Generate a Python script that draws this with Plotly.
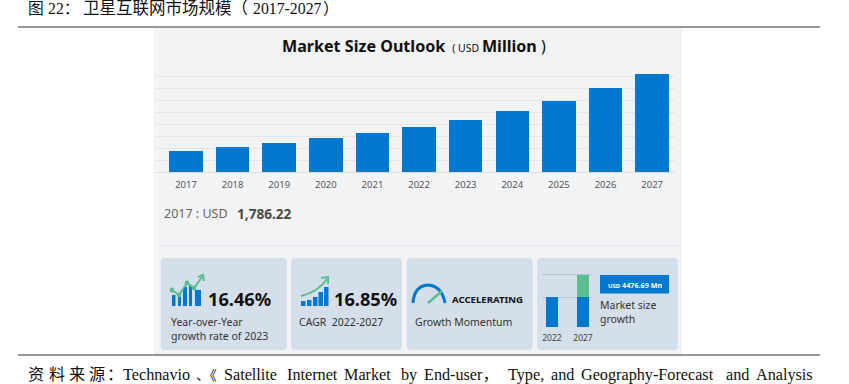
import plotly.graph_objects as go

W, H = 849, 384

# ---- data ----
years = ["2017", "2018", "2019", "2020", "2021", "2022", "2023", "2024", "2025", "2026", "2027"]
market_size = [1786.22, 2070, 2390, 2810, 3250, 3760, 4370, 5110, 5960, 7000, 8160]
mini_years = ["2022", "2027"]
mini_base = [6030, 6030]
mini_growth = [0, 4476.69]
kpi_yoy = "16.46%"
kpi_cagr = "16.85%"

BLUE = "#0078d0"
GREEN = "#5cbd90"
PANEL = "#f2f3f5"
CARD = "#d5dfea"
SANS = "Noto Sans, Open Sans, sans-serif"
SERIF = "Liberation Serif, Noto Sans CJK SC, serif"


def px(x):
    return x / W


def py(y):
    return 1 - y / H


shapes = []
annotations = []


def rect(x0, y0, x1, y1, color):
    shapes.append(dict(type="rect", xref="paper", yref="paper", x0=px(x0), x1=px(x1), y0=py(y0), y1=py(y1),
                       fillcolor=color, line_width=0, layer="below"))


def hline(x0, x1, y, color, width=1):
    shapes.append(dict(type="line", xref="paper", yref="paper", x0=px(x0), x1=px(x1), y0=py(y), y1=py(y),
                       line=dict(color=color, width=width), layer="below"))


def polyline(points, color, width, layer="above"):
    path = "M " + " L ".join(f"{px(a):.5f},{py(b):.5f}" for a, b in points)
    shapes.append(dict(type="path", xref="paper", yref="paper", path=path,
                       line=dict(color=color, width=width), layer=layer))


def curve(p0, c, p1, color, width):
    path = (f"M {px(p0[0]):.5f},{py(p0[1]):.5f} Q {px(c[0]):.5f},{py(c[1]):.5f} "
            f"{px(p1[0]):.5f},{py(p1[1]):.5f}")
    shapes.append(dict(type="path", xref="paper", yref="paper", path=path,
                       line=dict(color=color, width=width)))


def dot(x, y, r, color):
    shapes.append(dict(type="circle", xref="paper", yref="paper", x0=px(x - r), x1=px(x + r),
                       y0=py(y + r), y1=py(y - r), fillcolor=color, line_width=0))


def icon_bar(x0, x1, y0, y1):
    shapes.append(dict(type="rect", xref="paper", yref="paper", x0=px(x0), x1=px(x1), y0=py(y1), y1=py(y0),
                       fillcolor=BLUE, line_width=0))


def card(x0, y0, x1, y1, r=4):
    p = (f"M {px(x0 + r)},{py(y0)} L {px(x1 - r)},{py(y0)} Q {px(x1)},{py(y0)} {px(x1)},{py(y0 + r)} "
         f"L {px(x1)},{py(y1 - r)} Q {px(x1)},{py(y1)} {px(x1 - r)},{py(y1)} "
         f"L {px(x0 + r)},{py(y1)} Q {px(x0)},{py(y1)} {px(x0)},{py(y1 - r)} "
         f"L {px(x0)},{py(y0 + r)} Q {px(x0)},{py(y0)} {px(x0 + r)},{py(y0)} Z")
    shapes.append(dict(type="path", xref="paper", yref="paper", path=p, fillcolor=CARD, line_width=0, layer="below"))


def text(x, y, s, size, color="#333333", family=SANS, anchor="left", bold=False):
    annotations.append(dict(xref="paper", yref="paper", x=px(x), y=py(y), text=f"<b>{s}</b>" if bold else s,
                            showarrow=False, xanchor=anchor, yanchor="middle", borderpad=0,
                            font=dict(size=size, color=color, family=family)))


# page furniture
rect(154, 27, 682, 355, PANEL)
hline(18, 820, 27, "#333333", 1.2)
hline(18, 820, 355, "#333333", 1.2)
hline(160, 680, 246, "#dfe1e5", 1)

heading_parts = [("图", 27, 15.8), ("22：", 47, 15.8), ("卫星互联网市场规模（", 82, 16.5),
                 ("2017-2027", 252, 15.8), ("）", 322, 15.8)]
for part, x, size in heading_parts:
    text(x, 8, part, size, "#111111", SERIF)

footer_parts = [("资", 27, 16.2), ("料", 47.5, 16.2), ("来", 68, 16.2), ("源", 88, 16.2), ("：", 106, 16.2),
                ("Technavio", 122, 16.2), ("、《", 195, 13.8), ("Satellite", 223.5, 16.2), ("Internet", 286, 16.2),
                ("Market", 343, 16.2), ("by", 400, 16.2), ("End-user，", 423, 16.2), ("Type,", 507, 16.2),
                ("and", 550, 16.2), ("Geography-Forecast", 580, 16.2), ("and", 725, 16.2), ("Analysis", 755, 16.2)]
for part, x, size in footer_parts:
    text(x, 375, part, size, "#111111", SERIF)

# title
text(414, 46, "<b>Market Size Outlook</b> <span style='font-size:10.5px'> ( USD </span><b>Million</b> )", 16.1,
     "#111111", SANS, "center")
text(163, 213, "2017 : USD", 12.5, "#666666")
text(236, 213, "1,786.22", 13.6, "#4a4a4a", bold=True)

# cards
card(160.7, 258, 287, 350)
card(291, 258, 402, 350)
card(406.7, 258, 532.7, 350)
card(537, 258, 678, 350)

# card 1
for a, b, t in [(172, 175.5, 295), (178, 181, 297), (183, 187, 287), (189, 192, 286), (195, 201, 290)]:
    icon_bar(a, b, t, 306)
polyline([(172, 290), (179, 295), (187, 283), (194, 288), (202, 277)], GREEN, 2)
for a, b in [(172, 290), (179, 295), (187, 283), (194, 288)]:
    dot(a, b, 2.4, GREEN)
polyline([(198, 277), (203, 275), (204, 281)], GREEN, 2)
text(207, 299, kpi_yoy, 18.2, "#111111", bold=True)
text(170, 322, "Year-over-Year", 10.5)
text(170, 336, "growth rate of 2023", 10.5)

# card 2
for a, t in [(301, 301), (307, 300), (313, 297), (318.5, 292), (324, 287)]:
    icon_bar(a, a + 4.5, t, 306)
curve((301, 296), (318, 292), (327, 279), GREEN, 2)
polyline([(321, 278), (328, 277), (328, 284)], GREEN, 2)
text(332.5, 299, kpi_cagr, 18.2, "#111111", bold=True)
text(298, 322, "CAGR  2022-2027", 10.5)

# card 3
curve((413, 303), (414, 286), (428, 285), BLUE, 3)
curve((428, 285), (442, 286), (445, 303), BLUE, 3)
polyline([(428, 303), (442, 291)], GREEN, 2.5)
text(451, 299.5, "ACCELERATING", 9.6, "#111111", bold=True)
text(414, 322, "Growth Momentum", 10.5)

# card 4
rect(600, 275, 669, 293.5, BLUE)
text(634.5, 285, "<span style='font-size:6px'>USD</span> 4476.69 Mn", 7.2, "#ffffff", anchor="center", bold=True)
text(599, 305, "Market size", 10.5)
text(599, 319, "growth", 10.5)

fig = go.Figure()
fig.add_bar(x=years, y=market_size, marker=dict(color=BLUE, line_width=0), width=0.72,
            xaxis="x", yaxis="y", hoverinfo="skip")
fig.add_bar(x=mini_years, y=mini_base, marker=dict(color=BLUE, line_width=0), width=0.39,
            xaxis="x2", yaxis="y2", hoverinfo="skip")
fig.add_bar(x=mini_years, y=mini_growth, marker=dict(color=GREEN, line_width=0), width=0.39,
            xaxis="x2", yaxis="y2", hoverinfo="skip")

fig.update_layout(
    width=W, height=H, margin=dict(l=0, r=0, t=0, b=0, pad=0), autosize=False,
    paper_bgcolor="#ffffff", plot_bgcolor="rgba(0,0,0,0)", showlegend=False, barmode="stack",
    shapes=shapes, annotations=annotations,
    xaxis=dict(type="category", domain=[px(155), px(675)], range=[-0.665, 10.49], showgrid=False,
               tickfont=dict(size=9.5, color="#555555", family=SANS), ticks="", ticklen=0, ticklabelstandoff=4,
               showline=True, linecolor="#dcdde0", linewidth=1, anchor="y"),
    yaxis=dict(domain=[py(172), py(65)], range=[0, 8950], dtick=994.44, tick0=0, showticklabels=False,
               gridcolor="#e4e5e8", gridwidth=1, zeroline=False, anchor="x"),
    xaxis2=dict(type="category", domain=[px(541.7), px(591.7)], range=[-0.33, 1.28], showgrid=False,
                tickfont=dict(size=8.5, color="#444444", family=SANS), ticks="", showline=False,
                ticklabelstandoff=4, anchor="y2"),
    yaxis2=dict(domain=[py(327.3), py(272)], range=[0, 11100], tickmode="array", tickvals=[6030, 10506.69],
                showticklabels=False, gridcolor="#b8c2cf", gridwidth=1, zeroline=False, anchor="x2"),
)

fig.write_html("out.html", config=dict(displayModeBar=False),
               post_script="document.body.style.margin='0';document.documentElement.style.overflow='hidden';")
